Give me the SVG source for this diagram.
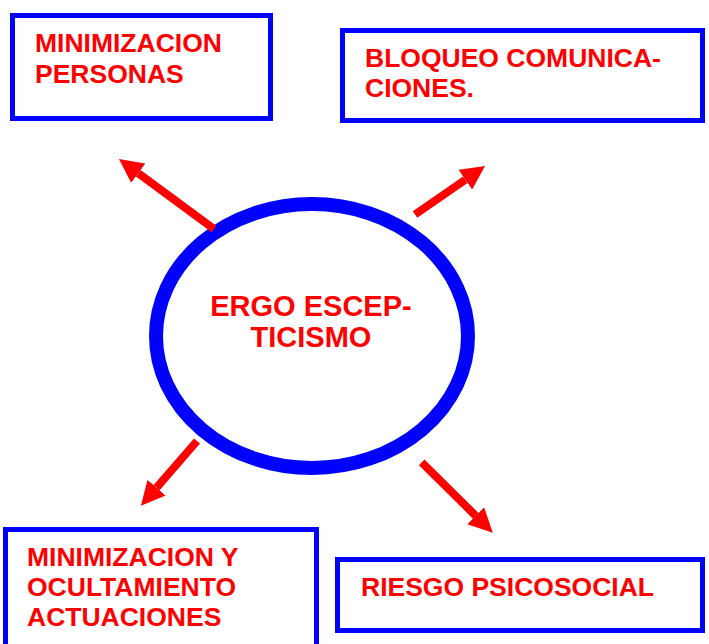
<svg xmlns="http://www.w3.org/2000/svg" width="709" height="644" viewBox="0 0 709 644">
<style>
.box{fill:#fff;stroke:#0000FF;stroke-width:5}
.t{font-family:"Liberation Sans",Arial,sans-serif;font-weight:bold;font-size:26.5px;fill:#FF0000}
.c{font-size:29px;text-anchor:middle}
.arr{stroke:#FF0000;stroke-width:8;fill:none;marker-end:url(#ah)}
</style>
<defs>
<marker id="ah" viewBox="0 0 24 24" refX="0" refY="12" markerUnits="userSpaceOnUse" markerWidth="24" markerHeight="24" orient="auto">
<path d="M0,0 L24,12 L0,24 z" fill="#FF0000"/>
</marker>
</defs>
<rect width="709" height="644" fill="#fff"/>
<g id="n1">
<rect class="box" x="12.5" y="15.5" width="258" height="103"/>
<text class="t" x="35" y="52">MINIMIZACION</text>
<text class="t" x="35" y="83">PERSONAS</text>
</g>
<g id="n2">
<rect class="box" x="342.5" y="30.5" width="360" height="90"/>
<text class="t" x="365" y="67">BLOQUEO COMUNICA-</text>
<text class="t" x="365" y="97">CIONES.</text>
</g>
<g id="n3">
<rect class="box" x="5.5" y="529.5" width="311" height="130"/>
<text class="t" x="27" y="566">MINIMIZACION Y</text>
<text class="t" x="27" y="596">OCULTAMIENTO</text>
<text class="t" x="27" y="626">ACTUACIONES</text>
</g>
<g id="n4">
<rect class="box" x="337.5" y="559.5" width="365" height="71"/>
<text class="t" x="361" y="596">RIESGO PSICOSOCIAL</text>
</g>
<g id="center">
<ellipse cx="312" cy="336" rx="156" ry="132" fill="#fff" stroke="#0000FF" stroke-width="14"/>
<text class="t c" x="311" y="316">ERGO ESCEP-</text>
<text class="t c" x="311" y="347">TICISMO</text>
</g>
<g id="connectors">
<path class="arr" d="M214,229 L138.3,173.2"/>
<path class="arr" d="M415,214.5 L465.3,179.7"/>
<path class="arr" d="M197,441 L156.6,487.7"/>
<path class="arr" d="M421.7,462.3 L475.7,515.8"/>
</g>
</svg>
